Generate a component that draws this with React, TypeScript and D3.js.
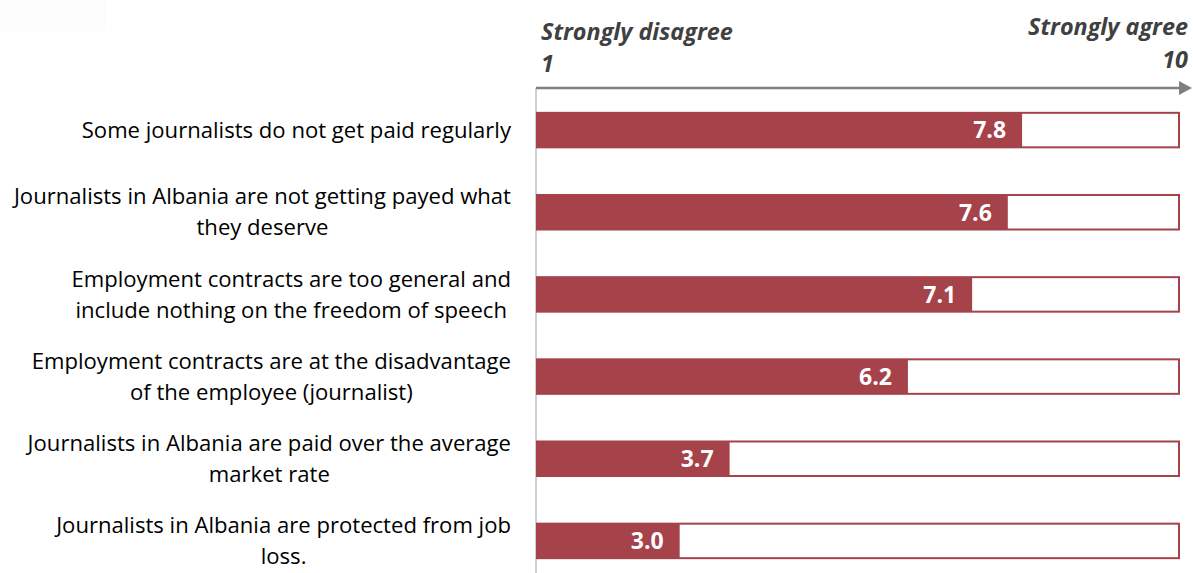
import React from "react";
import * as d3 from "d3";

const statements: string[][] = [
  ["Some journalists do not get paid regularly"],
  ["Journalists in Albania are not getting payed what", "they deserve"],
  ["Employment contracts are too general and", "include nothing on the freedom of speech"],
  ["Employment contracts are at the disadvantage", "of the employee (journalist)"],
  ["Journalists in Albania are paid over the average", "market rate"],
  ["Journalists in Albania are protected from job", "loss."],
];
const scores: number[] = [7.8, 7.6, 7.1, 6.2, 3.7, 3.0];
const scaleMin = 1;
const scaleMax = 10;
const leftTitle = "Strongly disagree";
const rightTitle = "Strongly agree";

const W = 1193;
const H = 573;
const RED = "#A5424A";
const FONT = "'Open Sans', 'Liberation Sans', sans-serif";
const LABEL_SIZE = 22.1;

function measure(text: string, size: number, weight = "normal"): number {
  if (typeof document === "undefined") return text.length * size * 0.5;
  const c = document.createElement("canvas");
  const ctx = c.getContext("2d");
  if (!ctx) return text.length * size * 0.5;
  ctx.font = `${weight} ${size}px ${FONT}`;
  return ctx.measureText(text).width;
}

export default function App() {
  const x = d3.scaleLinear().domain([scaleMin, scaleMax]).range([537, 1179]);
  const y = d3
    .scaleBand<number>()
    .domain(d3.range(scores.length))
    .range([89, 582])
    .paddingInner(0.58)
    .paddingOuter(0.29);
  const bh = y.bandwidth();
  const titleStyle = { fontSize: 23.4, fontWeight: "bold" as const, fontStyle: "italic" as const, fill: "#404040" };
  return (
    <svg
      width={W}
      height={H}
      style={{ position: "absolute", left: 0, top: 0, background: "#fff" }}
      fontFamily={FONT}
    >
      <rect x={0} y={0} width={105} height={31} fill="#fcfcfc" />
      <text x={541} y={40} {...titleStyle}>{leftTitle}</text>
      <text x={541} y={72} {...titleStyle}>{scaleMin}</text>
      <text x={1188} y={35} textAnchor="end" {...titleStyle}>{rightTitle}</text>
      <text x={1188} y={68} textAnchor="end" {...titleStyle}>{scaleMax}</text>
      <line x1={536} x2={536} y1={88} y2={H} stroke="#d0d0d0" strokeWidth={2} />
      <path d={`M536,88 H1179`} stroke="#808080" strokeWidth={2.5} fill="none" />
      <path d="M1179,81 L1192,88 L1179,95 Z" fill="#808080" />
      {scores.map((v, i) => {
        const top = y(i)!;
        const cy = top + bh / 2;
        const lines = statements[i];
        const lh = 31;
        const maxW = Math.max(...lines.map((l) => measure(l, LABEL_SIZE)));
        const cx = 511 - maxW / 2;
        return (
          <g key={i}>
            <rect x={x(scaleMin)} y={top} width={x(scaleMax) - x(scaleMin)} height={bh} fill="#fff" stroke={RED} strokeWidth={2} />
            <rect x={x(scaleMin)} y={top} width={x(v) - x(scaleMin)} height={bh} fill={RED} />
            <text x={x(v) - 16} y={cy} dy="0.36em" textAnchor="end" fill="#fff" fontWeight="bold" fontSize={23}>
              {v.toFixed(1)}
            </text>
            {lines.map((l, j) => (
              <text
                key={j}
                x={cx}
                y={cy + (j - (lines.length - 1) / 2) * lh}
                dy="0.35em"
                textAnchor="middle"
                fontSize={LABEL_SIZE}
                fill="#000"
              >
                {l}
              </text>
            ))}
          </g>
        );
      })}
    </svg>
  );
}
